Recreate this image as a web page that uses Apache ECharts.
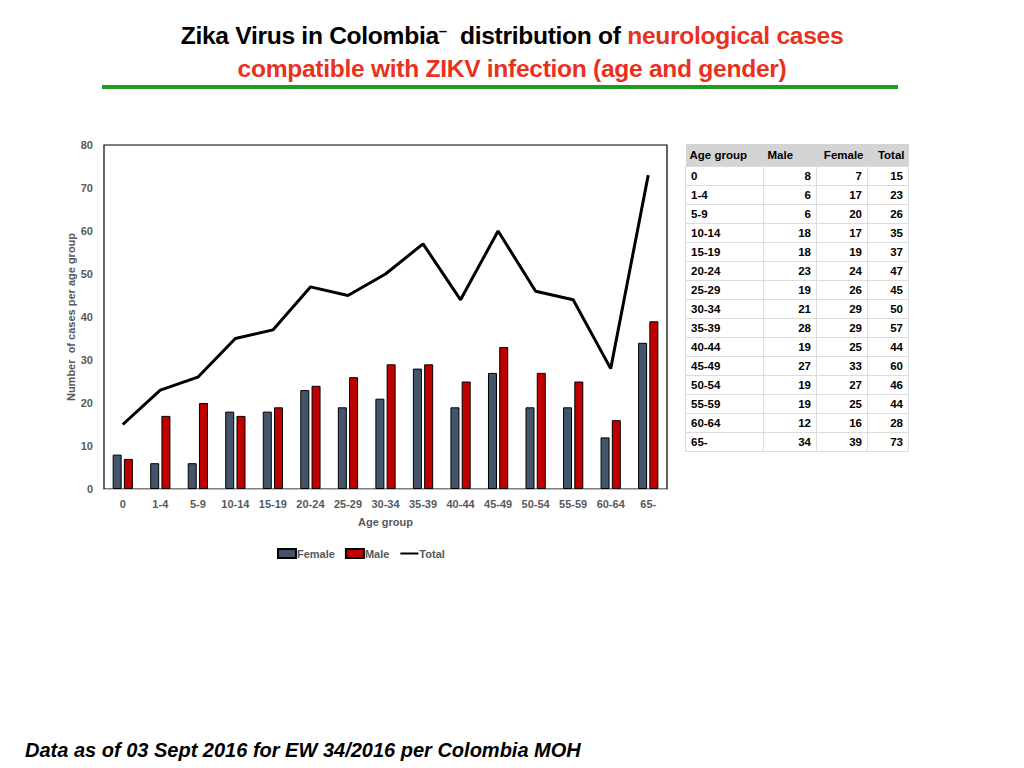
<!DOCTYPE html>
<html>
<head>
<meta charset="utf-8">
<script src="https://cdn.jsdelivr.net/npm/echarts@6/dist/echarts.min.js"></script>
<style>
  body { margin: 0; background: #fff; font-family: "Liberation Sans", Arial, sans-serif; }
  #wrap { position: relative; width: 1024px; height: 768px; overflow: hidden; }
  #chart { position: absolute; left: 0; top: 0; width: 1024px; height: 768px; }
  .title { position: absolute; left: 0; width: 1024px; text-align: center; font-weight: bold; font-size: 24.6px; letter-spacing: -0.3px; line-height: 28px; }
  .title sup { font-size: 15px; line-height: 0; vertical-align: 8px; }
  .red { color: #e8321e; }
  #rule { position: absolute; left: 102px; top: 85px; width: 796px; height: 4px; background: #1f9a1f; }
  #foot { position: absolute; left: 25px; top: 739px; font-weight: bold; font-style: italic; font-size: 20px; }
  #tbl { position: absolute; left: 685px; top: 144px; border-collapse: collapse; font-size: 11.5px; font-weight: bold; color: #000; }
  #tbl th { background: #d4d4d4; height: 22px; padding: 0 4px; text-align: left; font-weight: bold; }
  #tbl td { height: 18px; border: 1px solid #dcdcdc; padding: 0 5px; text-align: right; vertical-align: middle; }
  #tbl td:first-child { text-align: left; }
</style>
</head>
<body>
<div id="wrap">
  <div id="chart"></div>
  <div class="title" style="top:22px;">Zika Virus in Colombia<sup>–</sup>&nbsp; distribution of <span class="red">neurological cases</span></div>
  <div class="title red" style="top:55px;">compatible with ZIKV infection (age and gender)</div>
  <div id="rule"></div>
  <table id="tbl"></table>
  <div id="foot">Data as of 03 Sept 2016 for EW 34/2016 per Colombia MOH</div>
</div>
<script>
// age groups (x axis and table rows)
const ageGroups = ['0', '1-4', '5-9', '10-14', '15-19', '20-24', '25-29', '30-34', '35-39', '40-44', '45-49', '50-54', '55-59', '60-64', '65-'];
// table columns as printed in the source table
const maleCol = [8, 6, 6, 18, 18, 23, 19, 21, 28, 19, 27, 19, 19, 12, 34];
const femaleCol = [7, 17, 20, 17, 19, 24, 26, 29, 29, 25, 33, 27, 25, 16, 39];
const totalCol = [15, 23, 26, 35, 37, 47, 45, 50, 57, 44, 60, 46, 44, 28, 73];
const yTicks = [0, 10, 20, 30, 40, 50, 60, 70, 80];

// table on the right
let rows = '<tr><th style="width:70px">Age group</th><th style="width:45px">Male</th><th style="width:43px;text-align:right">Female</th><th style="width:33px;text-align:right">Total</th></tr>';
ageGroups.forEach((g, i) => {
  rows += '<tr><td>' + g + '</td><td>' + maleCol[i] + '</td><td>' + femaleCol[i] + '</td><td>' + totalCol[i] + '</td></tr>';
});
document.getElementById('tbl').innerHTML = rows;

let chart = echarts.init(document.getElementById('chart'), null, { renderer: 'svg' });

const grey = '#595959';

// note: the source chart plots the table's "Male" column under the "Female" legend
chart.setOption({
  animation: false,
  textStyle: { fontFamily: '"Liberation Sans", Arial, sans-serif' },
  grid: {
    left: 104, right: 357, top: 145, bottom: 279,
    show: true, borderColor: '#000', borderWidth: 1.2
  },
  legend: {
    left: 272, top: 543,
    itemWidth: 18, itemHeight: 9, itemGap: 10,
    textStyle: { color: grey, fontSize: 11, fontWeight: 'bold', padding: [0, 0, 0, -4] },
    data: [
      { name: 'Female', icon: 'rect' },
      { name: 'Male', icon: 'rect' },
      { name: 'Total', itemStyle: { opacity: 0 } }
    ]
  },
  xAxis: {
    type: 'category',
    data: ageGroups,
    name: 'Age group',
    nameLocation: 'center',
    nameGap: 27,
    nameTextStyle: { color: grey, fontSize: 11, fontWeight: 'bold' },
    axisLine: { lineStyle: { color: '#bfbfbf', width: 1 } },
    axisTick: { show: false },
    axisLabel: { color: grey, fontSize: 11, fontWeight: 'bold', margin: 9, interval: 0 }
  },
  yAxis: {
    type: 'value',
    min: yTicks[0],
    max: yTicks[yTicks.length - 1],
    interval: 10,
    name: 'Number  of cases per age group',
    nameLocation: 'center',
    nameGap: 28,
    nameMoveOverlap: false,
    nameTextStyle: { color: grey, fontSize: 11, fontWeight: 'bold' },
    axisLine: { show: false },
    axisTick: { show: false },
    splitLine: { show: false },
    axisLabel: { color: grey, fontSize: 11, fontWeight: 'bold', margin: 11 }
  },
  series: [
    {
      name: 'Female',
      type: 'bar',
      data: maleCol,
      barWidth: 9,
      barGap: '25%',
      itemStyle: { color: '#44546a', borderColor: '#000', borderWidth: 1 }
    },
    {
      name: 'Male',
      type: 'bar',
      data: femaleCol,
      barWidth: 9,
      itemStyle: { color: '#c00000', borderColor: '#000', borderWidth: 1 }
    },
    {
      name: 'Total',
      type: 'line',
      data: totalCol,
      symbol: 'none',
      lineStyle: { color: '#000', width: 3 },
      itemStyle: { color: '#000' }
    }
  ]
});
</script>
</body>
</html>
